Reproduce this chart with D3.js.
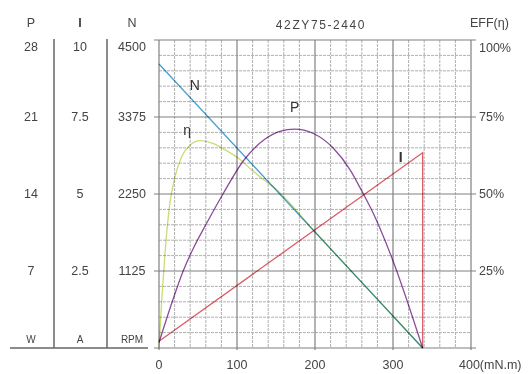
<!DOCTYPE html>
<html>
<head>
<meta charset="utf-8">
<script src="https://cdn.jsdelivr.net/npm/d3@7"></script>
<style>
  body { margin: 0; background: #fff; }
  svg text { font-family: "Liberation Sans", Arial, sans-serif; fill: #444; }
</style>
</head>
<body>
<div class="chart"></div>
<script>
// values
const title = "42ZY75-2440";
const torqueTicks = [0, 100, 200, 300, 400];
const powerTicks = [7, 14, 21, 28];
const currentTicks = ["2.5", "5", "7.5", "10"];
const speedTicks = [1125, 2250, 3375, 4500];
const effTicks = [25, 50, 75, 100];

// [torque mN.m, value]
const speedPts = [[0, 4150], [338, 0]];
const currentPts = [[0, 0.22], [338, 6.34], [338, 0]];
const powerPts = [
  [0, 0.5], [15, 3.8], [31, 7.0], [45, 9.2], [60, 11.2], [82, 14.0],
  [108, 17.0], [136, 19.0], [155, 19.7], [174, 19.9], [198, 19.5],
  [223, 18.2], [245, 16.2], [262, 14.0], [273, 12.5], [298, 8.3], [338, 0]
];
const effPts = [
  [0, 0], [3.5, 15.6], [7.7, 30.8], [14, 47.1], [20.5, 55.6], [29, 62.1],
  [40, 65.9], [53, 67.3], [68, 66.5], [85, 64.3], [102, 61.6], [119, 57.8],
  [136, 54.3], [146, 52.4], [200, 37.7], [250, 24.0], [300, 10.4], [338, 0]
];

const width = 531, height = 374;
const mLeft = 159, mRight = 471, mTop = 40, mBottom = 348;

const svg = d3.select(".chart").append("svg")
  .attr("width", width).attr("height", height);

const x = d3.scaleLinear().domain([0, 400]).range([mLeft, mRight]);
const yN = d3.scaleLinear().domain([0, 4500]).range([mBottom, mTop]);
const yP = d3.scaleLinear().domain([0, 28]).range([mBottom, mTop]);
const yI = d3.scaleLinear().domain([0, 10]).range([mBottom, mTop]);
const yE = d3.scaleLinear().domain([0, 100]).range([mBottom, mTop]);

// grid: minor every 20 mN.m / 225 rpm, major every 100 / 1125
const grid = svg.append("g");
const minorX = d3.range(20, 400, 20).filter(v => v % 100 !== 0);
const minorY = d3.range(225, 4500, 225).filter(v => v % 1125 !== 0);
grid.selectAll(".mx").data(minorX).enter().append("line")
  .attr("x1", d => x(d)).attr("x2", d => x(d)).attr("y1", mTop).attr("y2", mBottom)
  .attr("stroke", "#b0b0b0").attr("stroke-dasharray", "3,1");
grid.selectAll(".my").data(minorY).enter().append("line")
  .attr("y1", d => yN(d)).attr("y2", d => yN(d)).attr("x1", mLeft).attr("x2", mRight)
  .attr("stroke", "#b0b0b0").attr("stroke-dasharray", "3,1");
grid.selectAll(".Mx").data(torqueTicks).enter().append("line")
  .attr("x1", d => x(d)).attr("x2", d => x(d)).attr("y1", mTop).attr("y2", mBottom + 2)
  .attr("stroke", "#808080").attr("stroke-width", 1.2);
grid.selectAll(".My").data([0].concat(speedTicks)).enter().append("line")
  .attr("y1", d => yN(d)).attr("y2", d => yN(d)).attr("x1", mLeft - 5).attr("x2", mRight + 5)
  .attr("stroke", "#808080").attr("stroke-width", 1.2);

// left axis columns
const cols = [
  { x: 31, head: "P", unit: "W", ticks: powerTicks, y: yP, bold: false },
  { x: 80, head: "I", unit: "A", ticks: currentTicks, y: d => yI(+d), bold: true },
  { x: 132, head: "N", unit: "RPM", ticks: speedTicks, y: yN, bold: false }
];
cols.forEach(c => {
  svg.append("text").attr("x", c.x).attr("y", 23).attr("dy", "0.35em")
    .attr("text-anchor", "middle").attr("font-size", 12.5)
    .attr("font-weight", c.bold ? "bold" : "normal").text(c.head);
  svg.append("text").attr("x", c.x).attr("y", 339).attr("dy", "0.35em")
    .attr("text-anchor", "middle").attr("font-size", 10).text(c.unit);
  svg.append("g").selectAll("text").data(c.ticks).enter().append("text")
    .attr("x", c.x)
    .attr("y", (d, i) => c.y(d) + (i === c.ticks.length - 1 ? 7 : 0))
    .attr("dy", "0.35em").attr("text-anchor", "middle").attr("font-size", 12.5)
    .text(d => d);
});
[54, 107].forEach(sx => {
  svg.append("line").attr("x1", sx).attr("x2", sx).attr("y1", mTop - 1).attr("y2", mBottom)
    .attr("stroke", "#666").attr("stroke-width", 1.5);
});
svg.append("line").attr("x1", 10).attr("x2", 148).attr("y1", mBottom).attr("y2", mBottom)
  .attr("stroke", "#666").attr("stroke-width", 1.5);

// right axis
svg.append("g").selectAll("text").data(effTicks).enter().append("text")
  .attr("x", mRight + 8)
  .attr("y", d => yE(d) + (d === 100 ? 8 : 0))
  .attr("dy", "0.35em").attr("font-size", 12.5).text(d => d + "%");
svg.append("text").attr("x", 470).attr("y", 23).attr("dy", "0.35em")
  .attr("font-size", 12.5).text("EFF(η)");

// bottom axis
svg.append("g").selectAll("text").data(torqueTicks).enter().append("text")
  .attr("x", d => d === 400 ? x(d) - 12 : x(d)).attr("y", 365).attr("dy", "0.35em")
  .attr("text-anchor", d => d === 400 ? "start" : "middle").attr("font-size", 12.5)
  .text(d => d === 400 ? "400(mN.m)" : d);

svg.append("text").attr("x", 321).attr("y", 25).attr("dy", "0.35em")
  .attr("text-anchor", "middle").attr("font-size", 12).attr("letter-spacing", 1.6)
  .text(title);

// curves
const curves = svg.append("g").attr("fill", "none").attr("stroke-width", 1.3);
const mk = (yScale, curve) => d3.line().x(d => x(d[0])).y(d => yScale(d[1])).curve(curve);
curves.append("path").datum(speedPts).attr("d", mk(yN, d3.curveLinear))
  .attr("stroke", "#4a9ed0").style("mix-blend-mode", "multiply");
curves.append("path").datum(currentPts).attr("d", mk(yI, d3.curveLinear))
  .attr("stroke", "#dc5f68").style("mix-blend-mode", "multiply");
curves.append("path").datum(powerPts).attr("d", mk(yP, d3.curveMonotoneX))
  .attr("stroke", "#8c4c9c").style("mix-blend-mode", "multiply");
curves.append("path").datum(effPts).attr("d", mk(yE, d3.curveMonotoneX))
  .attr("stroke", "#c8dc78").style("mix-blend-mode", "multiply");

// curve labels
const labels = [
  { t: "N", tx: 46, y: yN(3840), bold: false },
  { t: "P", tx: 174, y: yP(21.9), bold: false },
  { t: "η", tx: 36, y: yE(70.7), bold: false },
  { t: "I", tx: 310, y: yI(6.2), bold: true }
];
svg.append("g").selectAll("text").data(labels).enter().append("text")
  .attr("x", d => x(d.tx)).attr("y", d => d.y).attr("dy", "0.35em")
  .attr("text-anchor", "middle").attr("font-size", 14)
  .attr("font-weight", d => d.bold ? "bold" : "normal")
  .style("fill", "#333").text(d => d.t);
</script>
</body>
</html>
